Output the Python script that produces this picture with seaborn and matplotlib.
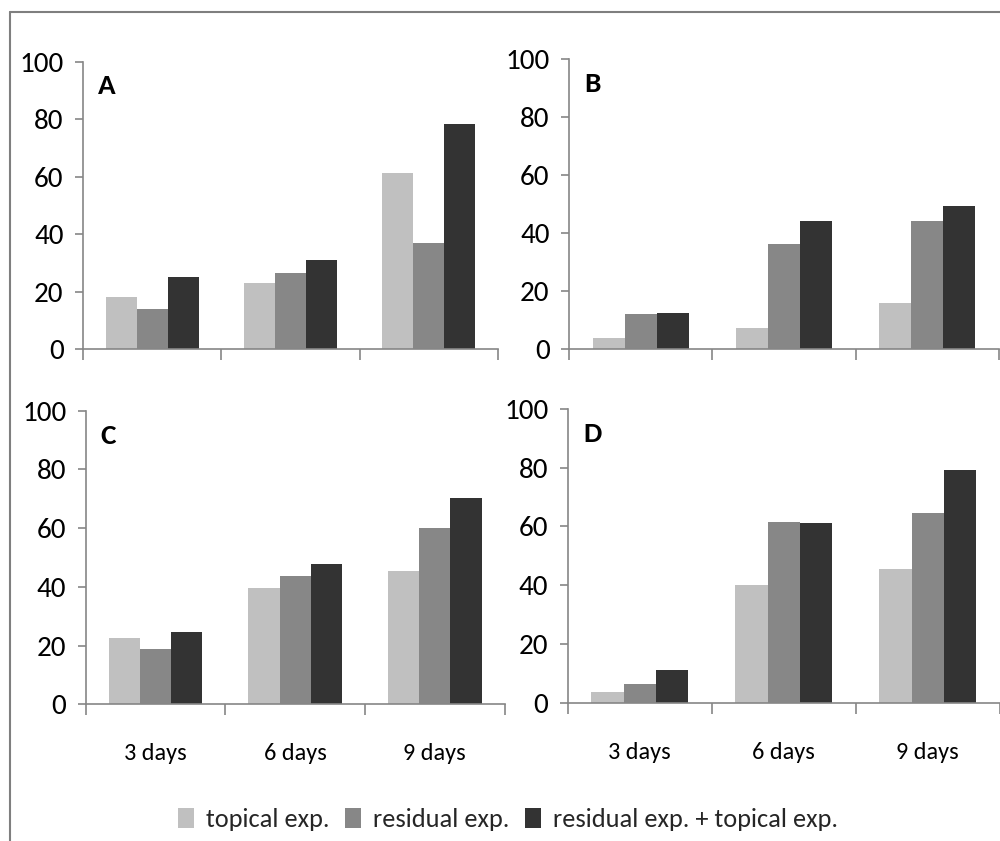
import matplotlib
matplotlib.use("Agg")
import matplotlib.pyplot as plt
from matplotlib import font_manager
from matplotlib.patches import Patch
from matplotlib.lines import Line2D
import seaborn as sns
import pandas as pd

days = ["3 days", "6 days", "9 days"]
series = ["topical exp.", "residual exp.", "residual exp. + topical exp."]
panel_labels = ["A", "B", "C", "D"]

# values per panel: [topical, residual, residual+topical] for each day
A_topical = [18.2, 23.1, 61.3]
A_residual = [14.0, 26.5, 37.0]
A_both = [25.2, 31.1, 78.3]

B_topical = [3.9, 7.3, 16.0]
B_residual = [12.2, 36.3, 44.2]
B_both = [12.5, 44.2, 49.4]

C_topical = [22.6, 39.6, 45.4]
C_residual = [18.8, 43.7, 60.1]
C_both = [24.6, 47.8, 70.3]

D_topical = [3.6, 40.1, 45.5]
D_residual = [6.4, 61.5, 64.6]
D_both = [11.1, 61.2, 79.2]

y_ticks = [0, 20, 40, 60, 80, 100]

colors = ["#c0c0c0", "#878787", "#333333"]
axis_color = "#868686"

sns.set_theme(style="white")
available = {f.name for f in font_manager.fontManager.ttflist}
chosen = "DejaVu Sans"
for cand in ["Carlito", "Calibri", "Liberation Sans Narrow", "Roboto Condensed",
             "Open Sans Condensed", "Lato", "Open Sans"]:
    if cand in available:
        chosen = cand
        break
FONT = [chosen, "DejaVu Sans"]
plt.rcParams["font.family"] = FONT

fig = plt.figure(figsize=(10, 8.41), dpi=100)

panels = {
    "A": (A_topical, A_residual, A_both),
    "B": (B_topical, B_residual, B_both),
    "C": (C_topical, C_residual, C_both),
    "D": (D_topical, D_residual, D_both),
}
positions = {
    "A": [0.083, 0.5847, 0.415, 0.342],
    "B": [0.569, 0.5847, 0.430, 0.3452],
    "C": [0.0857, 0.1625, 0.419, 0.3491],
    "D": [0.5677, 0.1645, 0.432, 0.3492],
}

for name in panel_labels:
    vals = panels[name]
    rows = []
    for s, v in zip(series, vals):
        for d, x in zip(days, v):
            rows.append({"day": d, "series": s, "value": x})
    df = pd.DataFrame(rows)
    ax = fig.add_axes(positions[name])
    sns.barplot(data=df, x="day", y="value", hue="series", order=days,
                hue_order=series, palette=colors, width=0.67, gap=0,
                saturation=1, linewidth=0, errorbar=None, legend=False, ax=ax)
    ax.set_xlim(-0.5, 2.5)
    ax.set_ylim(0, 100)
    ax.set_yticks(y_ticks)
    ax.set_yticklabels([str(t) for t in y_ticks])
    ax.set_xlabel("")
    ax.set_ylabel("")
    for s in ["top", "right"]:
        ax.spines[s].set_visible(False)
    for s in ["left", "bottom"]:
        ax.spines[s].set_color(axis_color)
        ax.spines[s].set_linewidth(1.2)
    ax.set_xticks([-0.5, 0.5, 1.5, 2.5])
    ax.set_xticklabels([])
    ax.tick_params(axis="x", which="major", direction="out", length=8,
                   width=1.2, color=axis_color, bottom=True)
    ax.tick_params(axis="y", direction="out", length=6, width=1.2,
                   color=axis_color, left=True, labelsize=21, pad=8,
                   labelcolor="black")
    if name in ("C", "D"):
        ax.set_xticks([0, 1, 2], minor=True)
        ax.set_xticklabels(days, minor=True)
        ax.tick_params(axis="x", which="minor", length=0, labelsize=17.5,
                       pad=28, labelcolor="black")
    ax.text(0.036, 0.915, name, transform=ax.transAxes, fontsize=21,
            fontweight="bold", ha="left", va="center", color="black")
    ax.set_facecolor("white")

handles = [Patch(facecolor=c, edgecolor="none") for c in colors]
fig.legend(handles, series, loc="center", bbox_to_anchor=(0.508, 0.026),
           ncol=3, frameon=False, fontsize=19, handlelength=0.6,
           handleheight=0.8, handletextpad=0.45, columnspacing=0.6)

# outer frame (top and left edges)
fig.add_artist(Line2D([0.010, 1.0], [1 - 12 / 841, 1 - 12 / 841],
                      transform=fig.transFigure, color="#7f7f7f", lw=1.5))
fig.add_artist(Line2D([0.010, 0.010], [0.0, 1 - 12 / 841],
                      transform=fig.transFigure, color="#7f7f7f", lw=1.5))

fig.savefig("out.png", dpi=100, facecolor="white")
